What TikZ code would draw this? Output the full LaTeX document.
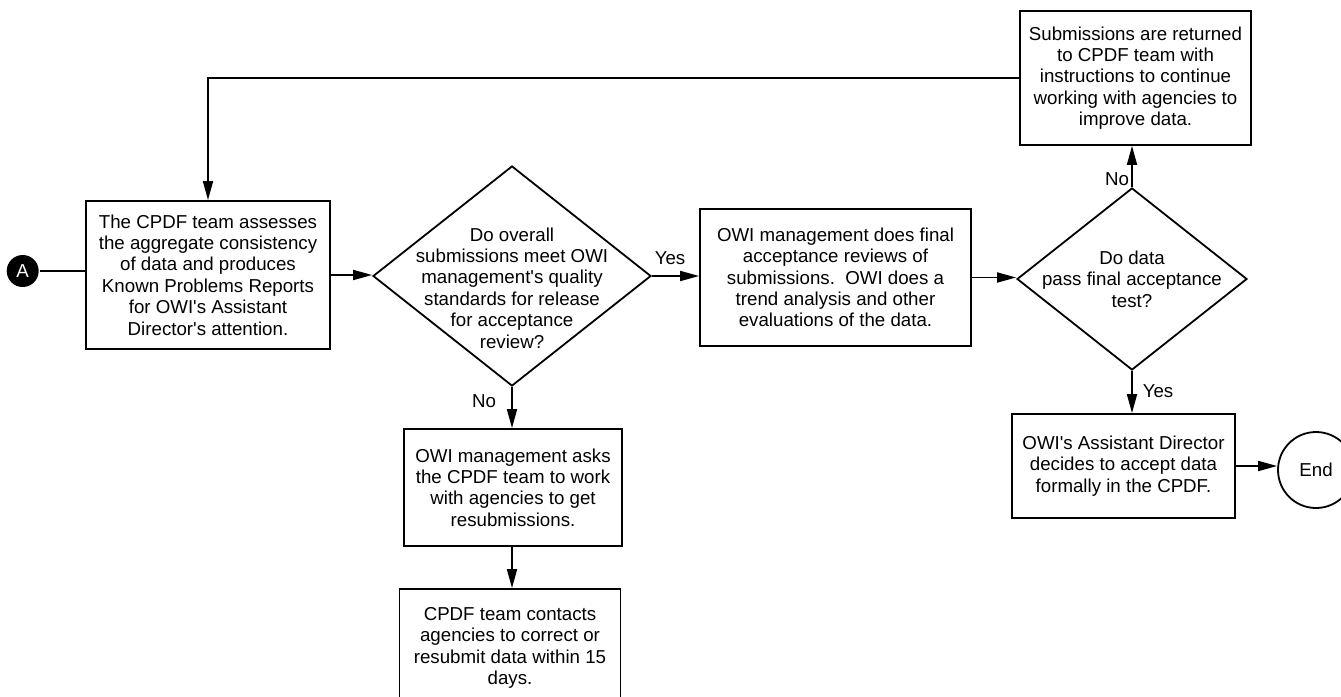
\documentclass[tikz,border=0pt]{standalone}
\usepackage{fontspec}
\setmainfont{Liberation Sans}
\usetikzlibrary{arrows.meta,shapes.geometric}

\newcommand{\ap}{\textquotesingle}

\begin{document}
\begin{tikzpicture}[x=1pt,y=-1pt,line width=1.8pt,
	>={Triangle[length=19pt,width=10pt]},
	every node/.style={font=\fontsize{18.7}{21.4}\selectfont},
	box/.style={draw,align=center,inner sep=0pt},
	decision/.style={draw,diamond,inner sep=0pt},
	lbl/.style={inner sep=0pt}]

\useasboundingbox (0,0) rectangle (1341,696);

\node[circle,fill=black,text=white,inner sep=0pt,minimum size=32pt] (A) at (22.7,271) {A};

\node[box,minimum width=244pt,minimum height=148pt] (assess) at (208,275)
	{The CPDF team assesses\\the aggregate consistency\\of data and produces\\Known Problems Reports\\for OWI\ap s Assistant\\Director\ap s attention.};

\node[decision,minimum width=278pt,minimum height=220pt] (q1) at (512,276) {};
\node[align=center,yshift=-12pt] (q1text) at (q1)
	{Do overall\\submissions meet OWI\\management\ap s quality\\standards for release\\for acceptance\\review?};

\node[box,minimum width=271pt,minimum height=137pt] (final) at (835.5,277.5)
	{OWI management does final\\acceptance reviews of\\submissions.\ \ OWI does a\\trend analysis and other\\evaluations of the data.};

\node[decision,minimum width=230pt,minimum height=182pt] (q2) at (1132,279) {};
\node[align=center] (q2text) at (q2) {Do data\\pass final acceptance\\test?};

\node[box,minimum width=231pt,minimum height=134pt] (back) at (1135.5,78)
	{Submissions are returned\\to CPDF team with\\instructions to continue\\working with agencies to\\improve data.};

\node[box,minimum width=223pt,minimum height=104pt] (accept) at (1123.5,466)
	{OWI\ap s Assistant Director\\decides to accept data\\formally in the CPDF.};

\node[circle,draw,inner sep=0pt,minimum size=76pt] (end) at (1316,470) {End};

\node[box,minimum width=218pt,minimum height=117pt] (ask) at (513,487.5)
	{OWI management asks\\the CPDF team to work\\with agencies to get\\resubmissions.};

\node[box,minimum width=221pt,minimum height=118pt] (contact) at (510,648)
	{CPDF team contacts\\agencies to correct or\\resubmit data within 15\\days.};

% labels on the branches
\node[lbl] (yes1) at (670,258) {Yes};
\node[lbl] (no1) at (484,401) {No};
\node[lbl] (no2) at (1117,179) {No};
\node[lbl] (yes2) at (1158,391) {Yes};

\coordinate (corner) at (assess.north |- back.west);

\draw (A) -- (A -| assess.west);
\draw[->] (assess.east) -- (assess.east -| q1.west);
\draw[->] (q1.east) -- (q1.east -| final.west);
\draw[->] (final.east) -- (final.east -| q2.west);
\draw[->] (q2.north) -- (q2.north |- back.south);
\draw[->] (back.west) -- (corner) -- (assess.north);
\draw[->] (q2.south) -- (q2.south |- accept.north);
\draw[->] (accept.east) -- (end.west |- accept.east);
\draw[->] (q1.south) -- (q1.south |- ask.north);
\draw[->] (q1.south |- ask.south) -- (q1.south |- contact.north);

\end{tikzpicture}
\end{document}
